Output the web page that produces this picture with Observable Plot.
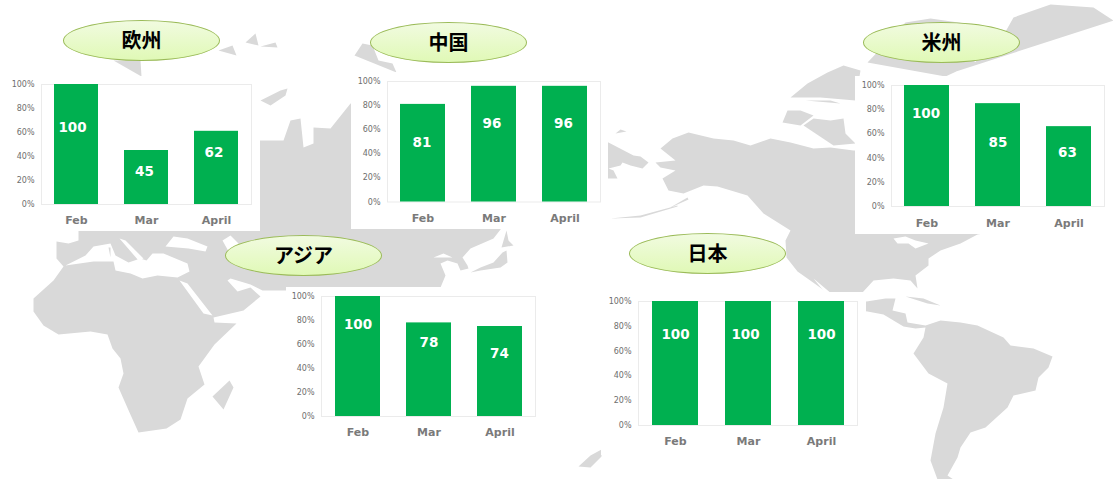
<!DOCTYPE html>
<html><head><meta charset="utf-8">
<script src="https://cdn.jsdelivr.net/npm/d3@7"></script>
<script src="https://cdn.jsdelivr.net/npm/@observablehq/plot@0.6"></script>
<style>
html,body{margin:0;padding:0;background:#fff}
#root{position:relative;width:1113px;height:479px;overflow:hidden}
.layer{position:absolute;display:block}
.panel{position:absolute;background:#fff}
.panel svg{display:block;background:#fff}
.pill{position:absolute;box-sizing:border-box;width:157px;height:41px;border-radius:50%;border:1.5px solid #9bbb59;padding-bottom:2px;
background:linear-gradient(180deg,#f1fbe0,#e0f9b6);display:flex;align-items:center;justify-content:center;
font:700 20px "Noto Sans CJK JP",sans-serif;color:#000}
</style></head><body><div id="root"></div>
<script>
// ---- chart data ----
const months = ["Feb","Mar","April"];
const yTicks = [0,20,40,60,80,100];
const europeValues = [100,45,62];
const chinaValues  = [81,96,96];
const usValues     = [100,85,63];
const asiaValues   = [100,78,74];
const japanValues  = [100,100,100];
// bar tops (a few differ slightly from the printed label)
const europeBars = [100,45,61];
const chinaBars  = [81,96,96];
const usBars     = [100,85,66];
const asiaBars   = [100,78,75];
const japanBars  = [100,100,100];

// ---- background map outlines, in picture pixels ----
const landShapes = [
 // Eurasia + Africa
 [[78,231],[78,240],[68,243],[56,241],[56,258],[63,266],[53,280],[33,298],[33,311],[43,325],[58,334],[90,331],[107,334],[112,348],[120,358],[123,373],[118,387],[129,412],[138,432],[166,428],[180,419],[187,398],[204,384],[198,366],[214,344],[236,323],[214,322],[213,317],[243,310],[260,296],[250,287],[237,291],[227,280],[230,278],[250,284],[262,290],[287,290],[300,290],[440,287],[445,275],[440,263],[447,260],[457,263],[460,270],[468,268],[467,265],[462,257],[470,248],[493,238],[500,229],[505,222],[600,178],[617,178],[613,170],[608,168],[620,165],[622,162],[630,165],[642,168],[648,162],[640,156],[633,155],[608,142],[600,140],[500,110],[350,103],[330,128],[313,127],[313,143],[303,147],[300,118],[290,120],[283,140],[260,140],[200,150],[78,200],[78,231]],
 // Americas
 [[660,148],[672,138],[688,132],[713,138],[733,140],[750,145],[770,138],[790,142],[813,148],[830,147],[853,150],[1000,150],[1000,230],[977,234],[960,243],[940,250],[928,258],[928,265],[915,275],[917,288],[910,280],[893,278],[873,280],[862,292],[862,300],[866,301],[885,298],[895,298],[892,310],[905,313],[907,322],[925,325],[940,320],[960,322],[977,325],[1003,337],[1010,345],[1033,348],[1052,356],[1048,367],[1038,377],[1035,390],[1013,395],[1007,407],[985,427],[970,432],[960,447],[957,457],[947,475],[953,479],[937,479],[930,460],[935,433],[943,407],[947,383],[928,373],[913,353],[923,337],[925,327],[915,328],[903,326],[883,314],[867,311],[860,310],[832,296],[814,283],[797,271],[786,257],[785,240],[790,230],[763,213],[747,195],[717,186],[703,185],[683,193],[668,190],[662,178],[675,170],[660,167],[655,162],[675,160],[660,148]]
];
const waterShapes = [
 // Mediterranean and Adriatic
 [[65,265],[85,255],[93,246],[110,243],[115,255],[128,262],[140,258],[146,260],[152,253],[163,253],[187,263],[189,271],[177,277],[157,275],[142,278],[130,273],[115,270],[113,261],[93,261],[77,266]],
 [[119,238],[125,240],[133,248],[143,258],[138,260],[128,248]],
 // Black Sea, Caspian, Red Sea, Bohai, Baja, Great Lakes
 [[165,246],[173,236],[187,238],[207,246],[205,251],[188,248],[170,251]],
 [[222,240],[230,235],[238,243],[232,258],[225,255]],
 [[179,280],[187,283],[212,315],[203,313],[190,298]],
 [[433,257],[443,253],[452,257],[440,261]],
 [[813,278],[832,294],[826,294],[810,280]],
 [[893,238],[905,236],[915,240],[928,243],[915,248],[908,243],[897,243],[895,250]]
];
const islandShapes = [
 [[108,247],[110,247],[110,257],[108,257]],
 [[212,396],[229,380],[233,387],[223,409],[214,409]],
 [[470,272],[480,267],[493,262],[502,252],[506,250],[507,262],[500,267],[480,270],[472,277]],
 [[501,247],[506,230],[508,240],[513,245],[505,248]],
 [[578,466],[590,455],[601,449],[601,456],[590,467],[582,468]],
 [[905,296],[923,298],[940,305],[927,303],[910,298]],
 [[940,304],[960,306],[947,307]],
 [[782,122],[787,110],[800,110],[813,115],[800,125],[788,132]],
 [[803,125],[813,118],[830,120],[843,118],[845,133],[855,143],[833,145],[807,138]],
 [[805,100],[830,100],[840,103],[815,108]],
 [[790,97],[807,83],[827,72],[843,65],[860,70],[855,100],[820,97],[805,95]],
 [[867,62],[905,22],[930,18],[972,24],[960,45],[975,62],[945,76],[870,76]],
 [[940,76],[973,63],[1000,40],[1013,17],[1050,4],[1093,7],[1113,20],[1113,76]],
 [[113,60],[140,60],[141,76],[118,76]],
 [[218,50],[232,45],[236,55],[225,57]],[[245,42],[255,33],[258,45],[250,50]],[[260,46],[275,42],[277,47],[265,53]],
 [[354,55],[362,43],[372,45],[378,60],[392,63],[396,72],[360,72]],
 [[260,100],[280,90],[287,88],[285,95],[270,105],[260,107]],
 [[615,133],[620,129],[626,131],[622,134]],
 [[668,208],[687,197],[688,199],[672,209]],
 [[610,218],[640,215],[677,205],[677,206],[640,217],[610,219]]
];
const asPoly = rings => ({type:"MultiPolygon",coordinates:rings.map(r=>[r])});

// ---- panel layout ----
const panels = [
 {name:"欧州", values:europeValues, bars:europeBars, box:[8,76,252,155], frame:[41,84,251,204], label:[64,27.5,43], shift:[-4,-2,-2.5], tickY:220, pill:[63,20]},
 {name:"中国", values:chinaValues, bars:chinaBars, box:[351,72,257,157], frame:[387,81,600,201.5], label:[49.5,65,65], shift:[-1,-2,-1.5], tickY:218, pill:[370,22]},
 {name:"米州", values:usValues, bars:usBars, box:[855,76,258,158], frame:[891,85,1104,206], label:[77,53,44.5], shift:[-1,0,-1.5], tickY:223, pill:[863,22]},
 {name:"アジア", values:asiaValues, bars:asiaBars, box:[286,287,259,158], frame:[321,296,535,416], label:[76.5,61.5,52.5], shift:[0,0,-0.5], tickY:432, pill:[225,235]},
 {name:"日本", values:japanValues, bars:japanBars, box:[601,292,265,163], frame:[638,301,857,425], label:[73,73,73], shift:[0,-3,0], tickY:441, pill:[629,233]}
];

const root = document.getElementById("root");
const map = Plot.plot({
  width:1113, height:479, margin:0, projection:"identity",
  marks:[
    Plot.geo(asPoly(landShapes),{fill:"#d9d9d9"}),
    Plot.geo(asPoly(waterShapes),{fill:"#ffffff"}),
    Plot.geo(asPoly(islandShapes),{fill:"#d9d9d9"})
  ]
});
map.setAttribute("class","layer");
map.style.left="0";map.style.top="0";
root.appendChild(map);

for (const p of panels) {
  const [bx,by,bw,bh] = p.box, [fl,ft,fr,fb] = p.frame;
  const rows = months.map((m,i)=>({month:m,bar:p.bars[i],value:p.values[i],label:p.label[i],shift:p.shift[i]}));
  const chart = Plot.plot({
    width:bw, height:bh,
    marginLeft:fl-bx, marginRight:bx+bw-fr, marginTop:ft-by, marginBottom:by+bh-fb,
    style:{fontFamily:"'DejaVu Sans',sans-serif",background:"#fff"},
    x:{domain:months,paddingInner:0.37,paddingOuter:0.185,label:null},
    y:{domain:[0,100],label:null},
    marks:[
      Plot.frame({stroke:"#ebebeb"}),
      Plot.barY(rows,{x:"month",y:"bar",fill:"#00b050"}),
      Plot.axisY({ticks:yTicks,tickFormat:d=>d+"%",tickSize:0,tickPadding:7,fontSize:8,fill:"#6e6e6e",label:null}),
      Plot.axisX({tickSize:0,tickPadding:p.tickY-fb-4,fontSize:11,fontWeight:"bold",fill:"#7a7a7a",label:null}),
      ...rows.map(r=>Plot.text([r],{x:"month",y:"label",text:d=>String(d.value),dx:r.shift,fill:"#fff",fontSize:13.5,fontWeight:"bold"}))
    ]
  });
  const box = document.createElement("div");
  box.className="panel";
  box.style.cssText=`left:${bx}px;top:${by}px;width:${bw}px;height:${bh}px`;
  box.appendChild(chart);
  root.appendChild(box);
  const pill = document.createElement("div");
  pill.className="pill";
  pill.style.left=p.pill[0]+"px";pill.style.top=p.pill[1]+"px";
  pill.textContent=p.name;
  root.appendChild(pill);
}
</script></body></html>
